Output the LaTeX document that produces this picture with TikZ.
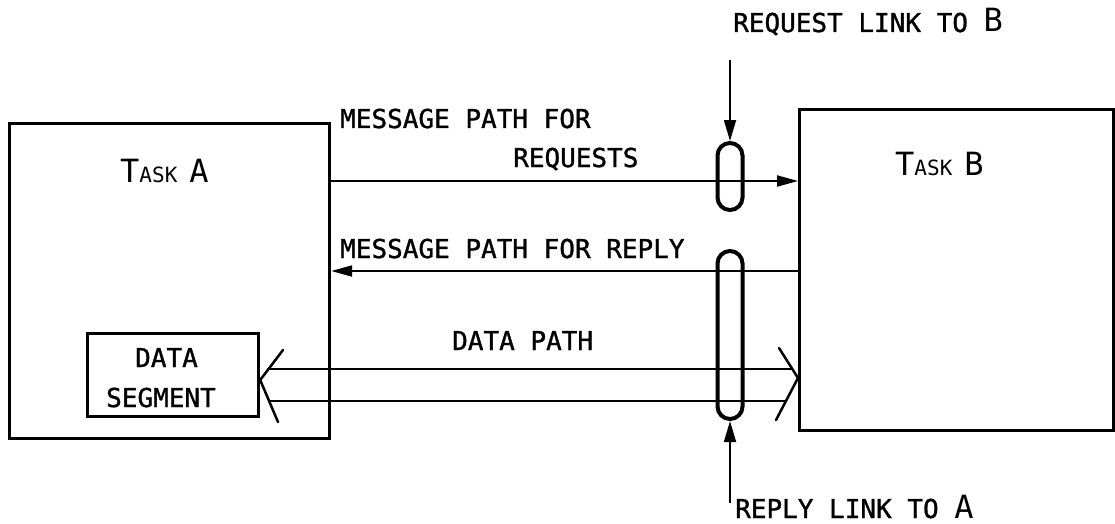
\documentclass[tikz,border=0pt]{standalone}
\usepackage{fontspec}
\newfontfamily\plotfont{DejaVu Sans Mono}[FakeBold=1.2]
\newfontfamily\titlefont{DejaVu Sans Mono}
\usetikzlibrary{arrows.meta}

% sizes for the lettering
\newcommand\lblsize{\fontsize{26}{30}\selectfont}
\newcommand\tkbig{\fontsize{32}{36}\selectfont}
\newcommand\tksmall{\fontsize{21}{24}\selectfont}

\begin{document}
\begin{tikzpicture}[x=1pt,y=-1pt,
  box/.style={draw, line width=3.2pt, inner sep=0pt, anchor=north west},
  capsule/.style={draw, line width=4pt, inner sep=0pt, minimum width=25pt,
                  rounded corners=12.5pt},
  lbl/.style={inner sep=0pt, anchor=base west, font=\plotfont\lblsize},
  ttl/.style={inner sep=0pt, anchor=base west, font=\titlefont},
  msg/.style={line width=2pt, -{Triangle[length=21pt,width=11pt]}},
  link/.style={line width=1.8pt, -{Triangle[length=21pt,width=12pt]}},
  datal/.style={line width=2pt},
  chev/.style={line width=2.5pt, line cap=round},
]
\useasboundingbox (0,0) rectangle (1115,524);

% the two tasks and the data segment
\node[box, minimum width=320pt, minimum height=315pt] (A) at (8,122) {};
\node[box, minimum width=314pt, minimum height=321pt] (B) at (798,108) {};
\node[box, minimum width=171pt, minimum height=83pt] (DS) at (86,332) {};

% link capsules
\node[capsule, minimum height=67pt]  (c1) at (730,176.5) {};
\node[capsule, minimum height=168pt] (c2) at (730,335) {};

% titles
\node[ttl] (ta) at (120,182) {{\tkbig T}{\tksmall ASK}\hspace{12pt}{\tkbig A}};
\node[ttl] (tb) at (895,175) {{\tkbig T}{\tksmall ASK}\hspace{12pt}{\tkbig B}};
\node[lbl] (ds1) at (135,367) {DATA};
\node[lbl] (ds2) at (106,407) {SEGMENT};

% path labels
\node[lbl] (mp1) at (340,128) {MESSAGE PATH FOR};
\node[lbl] (mp2) at (513,167) {REQUESTS};
\node[lbl] (mp3) at (340,258) {MESSAGE PATH FOR REPLY};
\node[lbl] (dp)  at (452,350) {DATA PATH};
\node[lbl] (rq)  at (733,32)  {REQUEST LINK TO {\titlefont\tkbig B}};
\node[lbl] (rp)  at (735,518) {REPLY LINK TO {\titlefont\tkbig A}};

% message paths
\draw[msg] (A.east |- 0,181) -- (B.west |- 0,181);
\draw[msg] (B.west |- 0,271) -- (A.east |- 0,271);

% links into the capsules
\coordinate (rqs) at (730,60);
\coordinate (rps) at (730,503);
\draw[link] (rqs) -- (c1.north);
\draw[link] (rps) -- (c2.south);

% data path: double line with open heads at both ends
\coordinate (L)  at (DS.east |- 0,380);
\coordinate (Lt) at (283,350);
\coordinate (Lb) at (278,422);
\coordinate (R)  at (B.west |- 0,378);
\coordinate (Rt) at (779,348);
\coordinate (Rb) at (776,420);
\draw[chev] (Lt) -- (L) -- (Lb);
\draw[chev] (Rt) -- (R) -- (Rb);
\coordinate (d1l) at (267.2,369);
\coordinate (d1r) at (793,369);
\coordinate (d2l) at (268,401);
\coordinate (d2r) at (786.4,401);
\draw[datal] (d1l) -- (d1r);
\draw[datal] (d2l) -- (d2r);
\end{tikzpicture}
\end{document}
